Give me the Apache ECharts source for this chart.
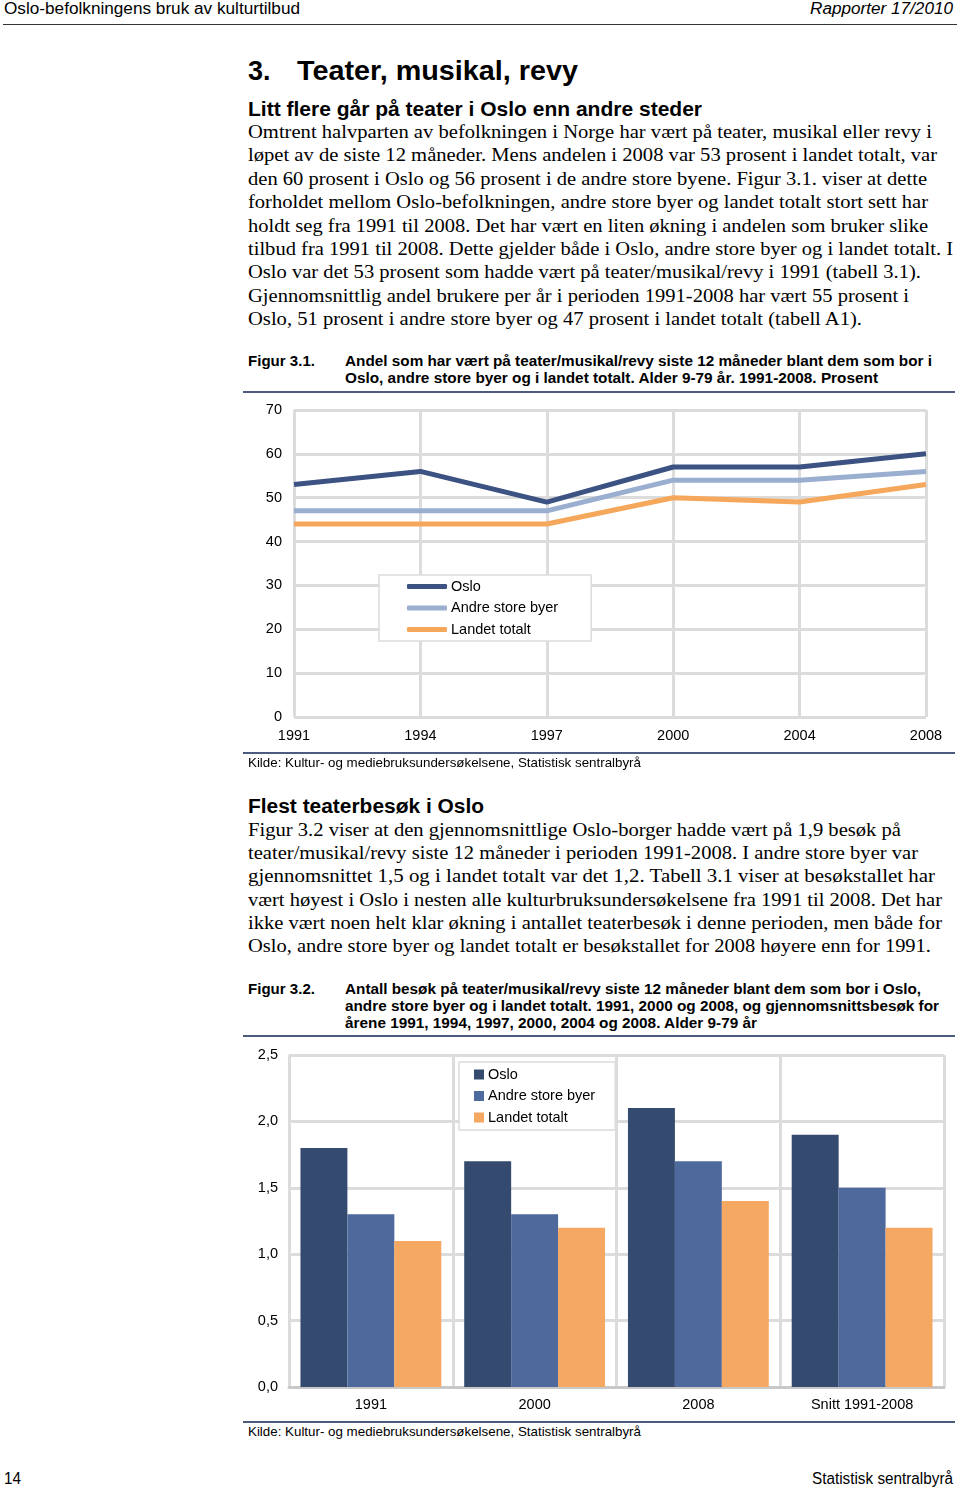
<!DOCTYPE html>
<html><head><meta charset="utf-8">
<script src="https://cdn.jsdelivr.net/npm/echarts@6/dist/echarts.min.js"></script>
<style>
html,body{margin:0;padding:0;background:#fff;}
body{width:960px;height:1489px;position:relative;overflow:hidden;font-family:"Liberation Sans",Arial,sans-serif;color:#000;}
.t{position:absolute;white-space:nowrap;transform-origin:0 50%;}
.s{font-family:"Liberation Serif","Times New Roman",serif;font-size:19px;line-height:19px;}
.cap{font-weight:bold;font-size:14.5px;line-height:15px;}
.rule{position:absolute;background:#4d5b7c;height:2px;}
#c1{position:absolute;left:0;top:395px;width:960px;height:360px;}
#c2{position:absolute;left:0;top:1040px;width:960px;height:380px;}
</style></head>
<body>
<div class="t" style="left:4px;top:1px;font-size:16px;line-height:16px;" data-w="296">Oslo-befolkningens bruk av kulturtilbud</div>
<div class="t" style="left:810px;top:1px;font-size:16px;line-height:16px;font-style:italic;" data-w="143">Rapporter 17/2010</div>
<div class="rule" style="left:3px;top:24px;width:954px;height:1px;background:#333;"></div>

<div class="t" style="left:248px;top:57px;font-size:27px;line-height:28px;font-weight:bold;">3.</div>
<div class="t" style="left:297px;top:57px;font-size:27px;line-height:28px;font-weight:bold;" data-w="281">Teater, musikal, revy</div>
<div class="t" style="left:248px;top:99px;font-size:20px;line-height:21px;font-weight:bold;" data-w="454">Litt flere går på teater i Oslo enn andre steder</div>

<div id="p1"></div>

<div class="t cap" style="left:248px;top:354px;" data-w="67">Figur 3.1.</div>
<div class="t cap" style="left:345px;top:354px;" data-w="587">Andel som har vært på teater/musikal/revy siste 12 måneder blant dem som bor i</div>
<div class="t cap" style="left:345px;top:371px;" data-w="533">Oslo, andre store byer og i landet totalt. Alder 9-79 år. 1991-2008. Prosent</div>
<div class="rule" style="left:243px;top:391px;width:712px;"></div>

<div id="c1"></div>

<div class="rule" style="left:243px;top:752px;width:712px;"></div>
<div class="t" style="left:248px;top:756px;font-size:13px;line-height:14px;" data-w="393">Kilde: Kultur- og mediebruksundersøkelsene, Statistisk sentralbyrå</div>

<div class="t" style="left:248px;top:796px;font-size:20px;line-height:21px;font-weight:bold;" data-w="236">Flest teaterbesøk i Oslo</div>

<div id="p2"></div>

<div class="t cap" style="left:248px;top:982px;" data-w="67">Figur 3.2.</div>
<div class="t cap" style="left:345px;top:982px;" data-w="576">Antall besøk på teater/musikal/revy siste 12 måneder blant dem som bor i Oslo,</div>
<div class="t cap" style="left:345px;top:999px;" data-w="594">andre store byer og i landet totalt. 1991, 2000 og 2008, og gjennomsnittsbesøk for</div>
<div class="t cap" style="left:345px;top:1016px;" data-w="412">årene 1991, 1994, 1997, 2000, 2004 og 2008. Alder 9-79 år</div>
<div class="rule" style="left:243px;top:1035px;width:712px;"></div>

<div id="c2"></div>

<div class="rule" style="left:243px;top:1421px;width:712px;"></div>
<div class="t" style="left:248px;top:1425px;font-size:13px;line-height:14px;" data-w="393">Kilde: Kultur- og mediebruksundersøkelsene, Statistisk sentralbyrå</div>

<div class="t" style="left:4px;top:1471px;font-size:16px;line-height:16px;" data-w="17">14</div>
<div class="t" style="left:812px;top:1471px;font-size:16px;line-height:16px;" data-w="141">Statistisk sentralbyrå</div>

<script>
// ---- Text content ----
const para1 = [
  ["Omtrent halvparten av befolkningen i Norge har vært på teater, musikal eller revy i", 932],
  ["løpet av de siste 12 måneder. Mens andelen i 2008 var 53 prosent i landet totalt, var", 937],
  ["den 60 prosent i Oslo og 56 prosent i de andre store byene. Figur 3.1. viser at dette", 927],
  ["forholdet mellom Oslo-befolkningen, andre store byer og landet totalt stort sett har", 928],
  ["holdt seg fra 1991 til 2008. Det har vært en liten økning i andelen som bruker slike", 928],
  ["tilbud fra 1991 til 2008. Dette gjelder både i Oslo, andre store byer og i landet totalt. I", 953],
  ["Oslo var det 53 prosent som hadde vært på teater/musikal/revy i 1991 (tabell 3.1).", 921],
  ["Gjennomsnittlig andel brukere per år i perioden 1991-2008 har vært 55 prosent i", 909],
  ["Oslo, 51 prosent i andre store byer og 47 prosent i landet totalt (tabell A1).", 862]
];
const para2 = [
  ["Figur 3.2 viser at den gjennomsnittlige Oslo-borger hadde vært på 1,9 besøk på", 901],
  ["teater/musikal/revy siste 12 måneder i perioden 1991-2008. I andre store byer var", 918],
  ["gjennomsnittet 1,5 og i landet totalt var det 1,2. Tabell 3.1 viser at besøkstallet har", 935],
  ["vært høyest i Oslo i nesten alle kulturbruksundersøkelsene fra 1991 til 2008. Det har", 942],
  ["ikke vært noen helt klar økning i antallet teaterbesøk i denne perioden, men både for", 942],
  ["Oslo, andre store byer og landet totalt er besøkstallet for 2008 høyere enn for 1991.", 931]
];
function addPara(id, lines, y0, step){
  const host = document.getElementById(id);
  lines.forEach((l,i)=>{
    const d = document.createElement('div');
    d.className = 't s';
    d.style.left = '248px';
    d.style.top = (y0 + i*step - 10) + 'px';
    d.textContent = l[0];
    d.dataset.w = l[1] - 248;
    host.appendChild(d);
  });
}
addPara('p1', para1, 132, 23.4);
addPara('p2', para2, 830, 23.2);
document.querySelectorAll('[data-w]').forEach(el=>{
  const w = el.getBoundingClientRect().width;
  const tw = +el.dataset.w;
  if (w > 0) el.style.transform = 'scaleX(' + (tw / w) + ')';
});

// ---- Chart data ----
const years = ["1991", "1994", "1997", "2000", "2004", "2008"];
const osloShare = [53, 56, 49, 57, 57, 60];
const andreShare = [47, 47, 47, 54, 54, 56];
const landetShare = [44, 44, 44, 50, 49, 53];

const barCats = ["1991", "2000", "2008", "Snitt 1991-2008"];
const osloVisits = [1.8, 1.7, 2.1, 1.9];
const andreVisits = [1.3, 1.3, 1.7, 1.5];
const landetVisits = [1.1, 1.2, 1.4, 1.2];

const yTicks1 = [0, 10, 20, 30, 40, 50, 60, 70];
const yTicks2 = [0, 0.5, 1.0, 1.5, 2.0, 2.5];

const FONT = '"Liberation Sans", Arial, sans-serif';
const GRID = '#dcdcdc';

const c1 = echarts.init(document.getElementById('c1'), null, {renderer:'canvas'});
c1.setOption({
  animation:false,
  grid:{left:294, top:15, width:632, height:307, containLabel:false},
  legend:{
    orient:'vertical', left:379, top:180,
    padding:[4,33,4,28], itemGap:6.5,
    backgroundColor:'#fff', borderColor:GRID, borderWidth:1.5,
    itemWidth:40, itemHeight:5, icon:'roundRect',
    textStyle:{fontFamily:FONT, fontSize:14.5, color:'#000', padding:[0,0,0,-1]},
    data:['Oslo','Andre store byer','Landet totalt']
  },
  xAxis:{
    type:'category', data:years, boundaryGap:false,
    axisLine:{show:false}, axisTick:{show:false},
    axisLabel:{fontFamily:FONT, fontSize:14.5, color:'#000', margin:11},
    splitLine:{show:true, lineStyle:{color:GRID, width:3}}
  },
  yAxis:{
    type:'value', min:yTicks1[0], max:yTicks1[yTicks1.length-1], interval:10,
    axisLine:{show:false}, axisTick:{show:false},
    axisLabel:{fontFamily:FONT, fontSize:14.5, color:'#000', margin:12},
    splitLine:{show:true, lineStyle:{color:GRID, width:3}}
  },
  series:[
    {name:'Oslo', type:'line', data:osloShare, symbol:'none', lineStyle:{width:5, color:'#3b5282'}, itemStyle:{color:'#3b5282'}, z:5},
    {name:'Andre store byer', type:'line', data:andreShare, symbol:'none', lineStyle:{width:5, color:'#9aaed0'}, itemStyle:{color:'#9aaed0'}, z:4},
    {name:'Landet totalt', type:'line', data:landetShare, symbol:'none', lineStyle:{width:5, color:'#f5a75c'}, itemStyle:{color:'#f5a75c'}, z:3}
  ]
});

const c2 = echarts.init(document.getElementById('c2'), null, {renderer:'canvas'});
c2.setOption({
  animation:false,
  grid:{left:289, top:15, width:655, height:332, containLabel:false},
  legend:{
    orient:'vertical', left:459, top:22,
    padding:[5,20,5,15], itemGap:6.5,
    backgroundColor:'#fff', borderColor:GRID, borderWidth:1.5,
    itemWidth:10, itemHeight:10, icon:'rect',
    textStyle:{fontFamily:FONT, fontSize:14.5, color:'#000', padding:[0,0,0,-1]},
    data:['Oslo','Andre store byer','Landet totalt']
  },
  xAxis:{
    type:'category', data:barCats, boundaryGap:true,
    axisLine:{show:true, lineStyle:{color:'#c8c8c8', width:3}}, axisTick:{show:false},
    axisLabel:{fontFamily:FONT, fontSize:14.5, color:'#000', margin:10},
    splitLine:{show:true, lineStyle:{color:GRID, width:3}}
  },
  yAxis:{
    type:'value', min:yTicks2[0], max:yTicks2[yTicks2.length-1], interval:0.5,
    axisLine:{show:false}, axisTick:{show:false},
    axisLabel:{fontFamily:FONT, fontSize:14.5, color:'#000', margin:11,
      formatter:v=>v.toFixed(1).replace('.', ',')},
    splitLine:{show:true, lineStyle:{color:GRID, width:3}}
  },
  series:[
    {name:'Oslo', type:'bar', data:osloVisits, barGap:'0%', barCategoryGap:'14%', itemStyle:{color:'#344a6e'}},
    {name:'Andre store byer', type:'bar', data:andreVisits, barGap:'0%', barCategoryGap:'14%', itemStyle:{color:'#4e6a9d'}},
    {name:'Landet totalt', type:'bar', data:landetVisits, barGap:'0%', barCategoryGap:'14%', itemStyle:{color:'#f5a862'}}
  ]
});
</script>
</body></html>
